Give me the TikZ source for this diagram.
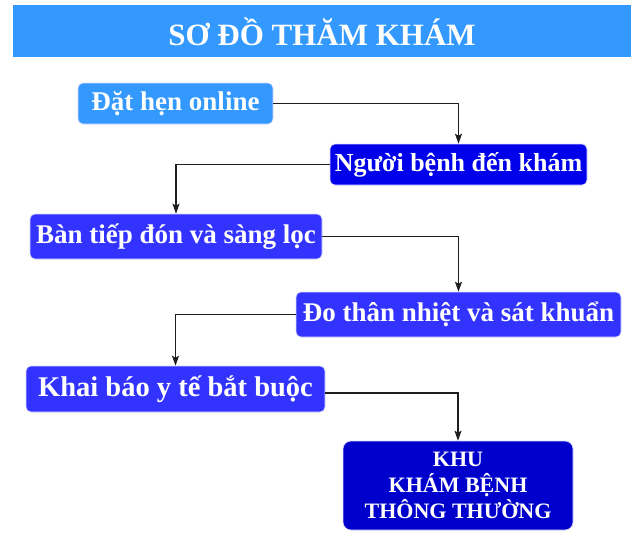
\documentclass[tikz,border=0pt]{standalone}
\usepackage{fontspec}
\setmainfont{Liberation Serif}
\usetikzlibrary{arrows.meta}
\definecolor{lightblue}{RGB}{51,153,255}
\definecolor{pureblue}{RGB}{0,0,235}
\definecolor{midblue}{RGB}{51,51,255}
\definecolor{darkblue}{RGB}{0,0,204}
\definecolor{linegray}{RGB}{30,30,30}
\tikzset{
  stepbox/.style={rectangle, rounded corners=5pt, text=white, inner sep=0pt,
    draw=white!85!blue, line width=0.6pt,
    font=\bfseries\fontsize{27}{30}\selectfont},
  flow/.style={draw=linegray, line width=1.4pt, -{Stealth[length=10pt,width=7pt,inset=2pt]}},
}
\begin{document}
\begin{tikzpicture}[x=1pt,y=-1pt]
\useasboundingbox (0,0) rectangle (640,544);
\fill[white] (0,0) rectangle (640,544);
% title bar
\fill[lightblue] (13,5) rectangle (631,57);
\node[text=white, font=\bfseries\fontsize{31}{34}\selectfont] (title) at (322,32) {SƠ ĐỒ THĂM KHÁM};
% boxes
\node[stepbox, fill=lightblue, minimum width=195pt, minimum height=41pt] (b1) at (175.5,103.5) {Đặt hẹn online};
\node[stepbox, fill=pureblue, minimum width=257pt, minimum height=41pt, font=\bfseries\fontsize{26}{30}\selectfont] (b2) at (458.5,164.5) {Người bệnh đến khám};
\node[stepbox, fill=midblue, minimum width=292pt, minimum height=45pt] (b3) at (176,236.5) {Bàn tiếp đón và sàng lọc};
\node[stepbox, fill=midblue, minimum width=325pt, minimum height=45pt] (b4) at (458.5,314.5) {Đo thân nhiệt và sát khuẩn};
\node[stepbox, fill=midblue, minimum width=299pt, minimum height=46pt, font=\bfseries\fontsize{28.5}{30}\selectfont] (b5) at (175.5,389) {Khai báo y tế bắt buộc};
\node[stepbox, fill=darkblue, rounded corners=8pt, minimum width=230pt, minimum height=89pt, align=center, font=\bfseries\fontsize{22}{26}\selectfont] (b6) at (458,485.5) {KHU\\KHÁM BỆNH\\THÔNG THƯỜNG};
% connectors
\draw[flow] (b1.east) -| (b2.north);
\draw[flow] (b2.west) -| (b3.north);
\draw[flow] (b3.east) -| (b4.north);
\draw[flow] (b4.west) -| (b5.north);
\draw[flow] ([yshift=-4pt]b5.east) -| (b6.north);
\end{tikzpicture}
\end{document}
